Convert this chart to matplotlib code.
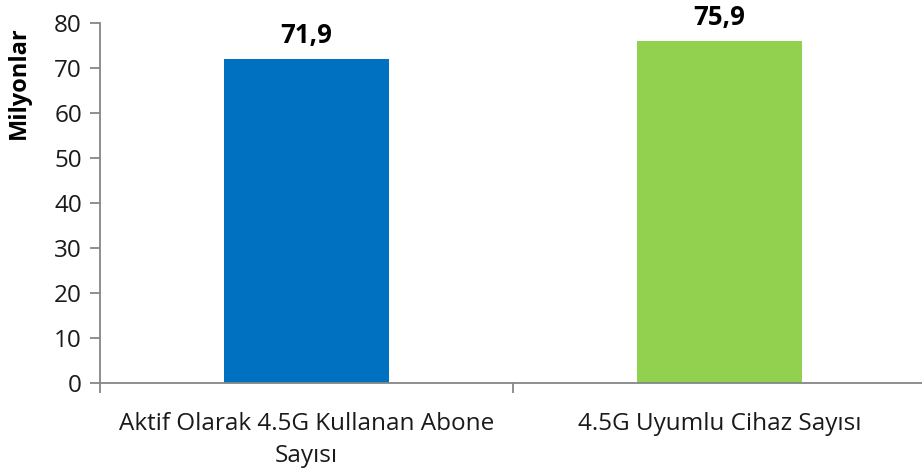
import matplotlib
matplotlib.use("Agg")
import matplotlib.pyplot as plt

# --- veriler ---
categories = ["Aktif Olarak 4.5G Kullanan Abone\nSayısı", "4.5G Uyumlu Cihaz Sayısı"]
values = [71.9, 75.9]
value_labels = ["71,9", "75,9"]
colors = ["#0070C0", "#92D050"]
yticks = [0, 10, 20, 30, 40, 50, 60, 70, 80]

plt.rcParams['font.family'] = ['Open Sans', 'DejaVu Sans']
axis_grey = "#868686"

fig = plt.figure(figsize=(9.22, 4.75), dpi=100)
ax = fig.add_axes([100/922, 92/475, 826/922, 360/475])

x = [0, 1]
ax.bar(x, values, width=0.4, color=colors)
for xi, v, lab in zip(x, values, value_labels):
    ax.text(xi, v + 3.6, lab, ha='center', va='baseline',
            fontsize=18.5, fontweight='bold', color='black')

ax.set_xlim(-0.5, 1.5)
ax.set_ylim(0, 80)
ax.set_yticks(yticks)
ax.set_yticklabels([str(t) for t in yticks], fontsize=17.5, color='#1a1a1a')

# kategori etiketleri, ayırıcı tikler ayrı
ax.set_xticks([-0.5, 0.5, 1.5])
ax.set_xticklabels([])
ax.set_xticks(x, minor=True)
ax.set_xticklabels(categories, minor=True, fontsize=17.5, color='#1a1a1a',
                   linespacing=1.45)
ax.tick_params(axis='x', which='minor', length=0, pad=21)
ax.tick_params(axis='x', which='major', length=7, width=1.3, color=axis_grey)
ax.tick_params(axis='y', length=7, width=1.3, color=axis_grey, pad=6)

for s in ['top', 'right']:
    ax.spines[s].set_visible(False)
for s in ['left', 'bottom']:
    ax.spines[s].set_color(axis_grey)
    ax.spines[s].set_linewidth(1.3)

ax.set_ylabel('Milyonlar', fontsize=17, fontweight='bold')
ax.yaxis.set_label_coords(-0.084, 0.835)

fig.savefig('out.png', dpi=100)
